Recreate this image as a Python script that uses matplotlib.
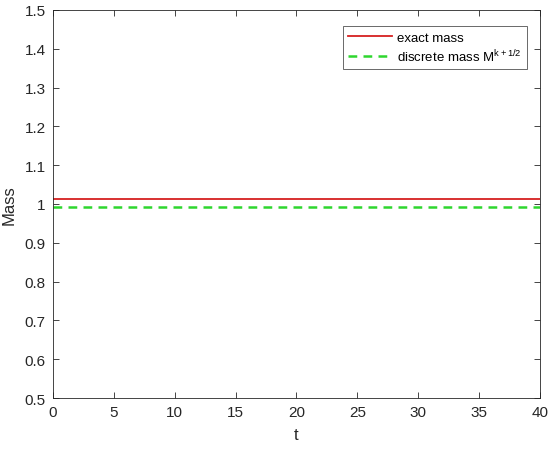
import matplotlib
matplotlib.use("Agg")
import matplotlib.pyplot as plt
import numpy as np

plt.rcParams['font.family'] = ['Liberation Sans', 'DejaVu Sans']
plt.rcParams['mathtext.fontset'] = 'custom'
plt.rcParams['mathtext.rm'] = 'Liberation Sans'

t = [0, 40]
exact_mass = [1.012, 1.012]
discrete_mass = [0.992, 0.992]
xticks = [0, 5, 10, 15, 20, 25, 30, 35, 40]
yticks = [0.5, 0.6, 0.7, 0.8, 0.9, 1.0, 1.1, 1.2, 1.3, 1.4, 1.5]

fig = plt.figure(figsize=(5.5, 4.52), dpi=100)
ax = fig.add_axes([0.096, 0.117, 0.886, 0.859])
ax.plot(t, exact_mass, color='#d62020', lw=1.3, label='exact mass')
ax.plot(t, discrete_mass, color='#2ed62e', lw=1.8, ls=(0, (3.5, 2.5)), label='discrete mass M$^{\\mathrm{k+1/2}}$')
ax.set_xlim(0, 40)
ax.set_ylim(0.5, 1.5)
ax.set_xticks(xticks)
ax.set_yticks(yticks)
ax.set_yticklabels(['0.5', '0.6', '0.7', '0.8', '0.9', '1', '1.1', '1.2', '1.3', '1.4', '1.5'])
ax.tick_params(direction='in', length=4, width=0.6, colors='#262626', labelsize=11, pad=5,
               top=True, right=True, labeltop=False, labelright=False)
for s in ax.spines.values():
    s.set_linewidth(0.6)
    s.set_color('#262626')
ax.set_xlabel('t', fontsize=12, color='#262626', labelpad=6)
ax.set_ylabel('Mass', fontsize=12, color='#262626', labelpad=6)
leg = ax.legend(loc='upper right', fontsize=9.5, frameon=True, fancybox=False, edgecolor='#262626',
                bbox_to_anchor=(527/550, (452-27)/452), bbox_transform=fig.transFigure, borderaxespad=0,
                handlelength=3.3, handletextpad=0.4, labelspacing=0.3, borderpad=0.4)
leg.get_frame().set_linewidth(0.6)
fig.savefig('out.png', dpi=100)
